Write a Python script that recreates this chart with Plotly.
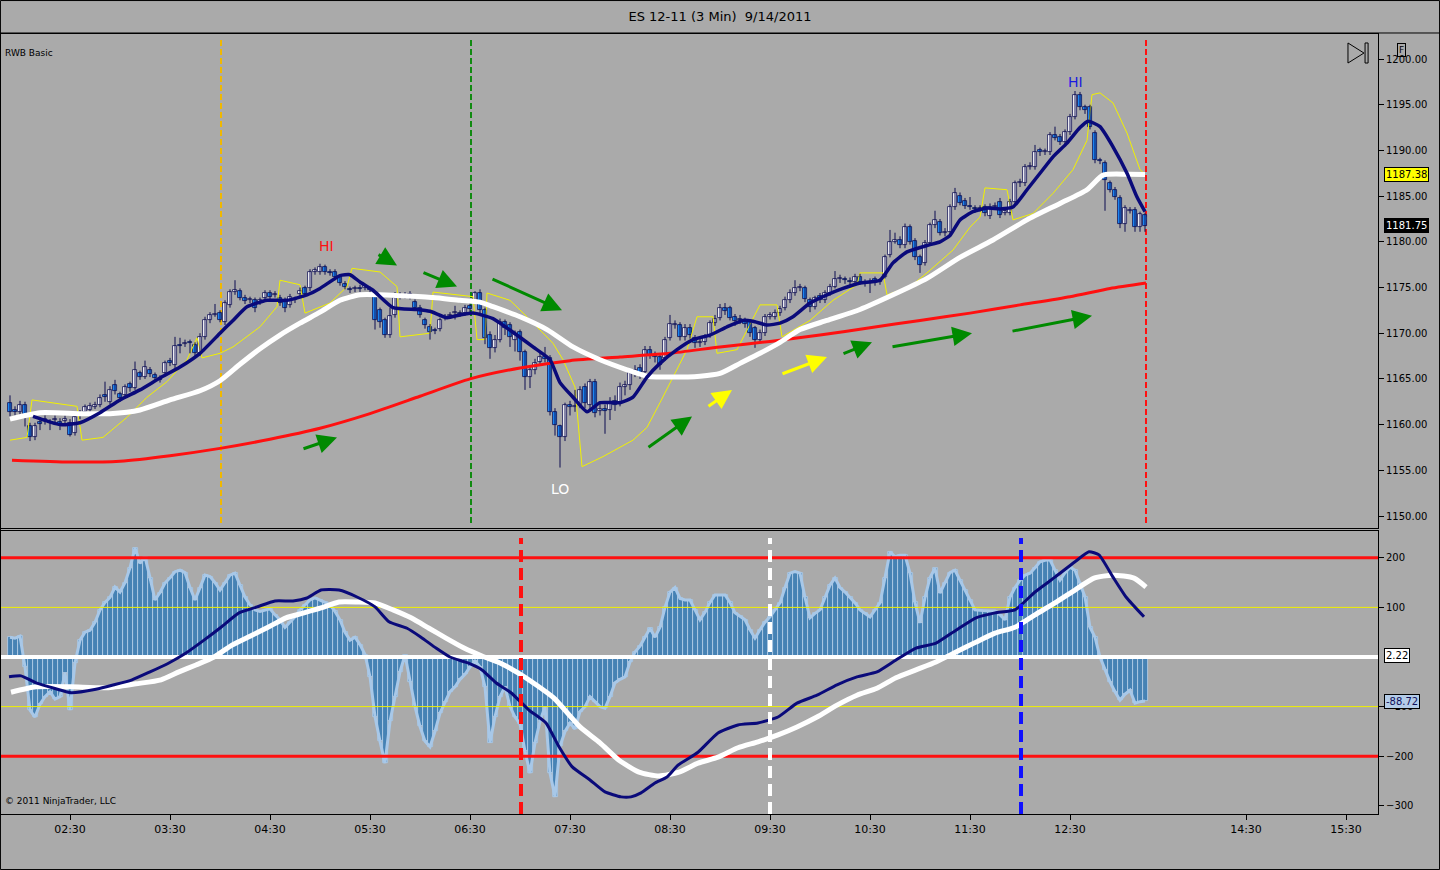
import plotly.graph_objects as go
from plotly.subplots import make_subplots

# ES 12-11, 3 minute bars, bar index 0 = 02:30
bars = list(range(-12, 216))

opens = [1162.4, 1161.6, 1161.4, 1162.2, 1159.8, 1158.6, 1160.3, 1160.4, 1160.3, 1160.5, 1160.3, 1160.4,
         1160.2, 1159.1, 1161.0, 1161.4, 1161.6, 1161.9, 1162.1, 1163.2, 1162.5, 1164.3, 1163.4, 1163.2,
         1164.4, 1164.0, 1165.6, 1165.2, 1166.0, 1165.4, 1165.0, 1165.6, 1167.0, 1166.5, 1168.7, 1168.8,
         1169.0, 1168.7, 1167.8, 1169.6, 1171.4, 1172.0, 1172.2, 1171.2, 1173.1, 1174.5, 1174.6, 1173.9,
         1173.6, 1173.6, 1173.4, 1173.9, 1174.4, 1174.2, 1173.9, 1173.6, 1173.1, 1173.6, 1174.3, 1174.9,
         1174.9, 1176.7, 1176.7, 1177.2, 1176.7, 1176.7, 1176.1, 1175.4, 1174.8, 1174.8, 1175.0, 1175.0,
         1174.8, 1174.0, 1172.5, 1171.4, 1169.8, 1172.0, 1174.0, 1174.2, 1174.2, 1173.4, 1172.8, 1171.4,
         1170.7, 1170.3, 1170.5, 1171.7, 1171.9, 1172.2, 1172.2, 1172.2, 1173.0, 1173.6, 1174.4, 1172.5,
         1169.8, 1168.4, 1169.3, 1171.2, 1170.9, 1169.3, 1170.1, 1167.9, 1165.2, 1166.0, 1166.9, 1167.4,
         1167.3, 1161.4, 1159.8, 1158.6, 1162.1, 1161.9, 1162.1, 1164.1, 1162.1, 1164.7, 1161.5, 1161.7,
         1161.6, 1162.6, 1162.4, 1164.1, 1164.3, 1165.6, 1166.2, 1165.8, 1168.2, 1167.6, 1167.4, 1167.3,
         1169.5, 1170.9, 1170.9, 1169.6, 1170.6, 1169.5, 1168.9, 1169.0, 1169.8, 1171.1, 1171.7, 1172.8,
         1172.8, 1171.8, 1171.5, 1171.4, 1171.2, 1170.6, 1169.3, 1170.0, 1171.8, 1171.8, 1172.2, 1172.8,
         1173.6, 1174.4, 1174.9, 1174.9, 1173.6, 1172.9, 1174.1, 1173.6, 1174.4, 1175.1, 1175.9, 1175.9,
         1175.7, 1175.6, 1176.2, 1175.6, 1175.5, 1175.9, 1175.6, 1176.2, 1178.6, 1180.0, 1180.2, 1179.6,
         1181.6, 1180.1, 1178.3, 1177.7, 1179.9, 1181.8, 1182.2, 1181.0, 1181.1, 1183.8, 1185.0, 1184.5,
         1183.9, 1183.7, 1183.6, 1183.8, 1182.8, 1183.8, 1184.4, 1183.2, 1183.2, 1184.4, 1186.4, 1186.4,
         1188.2, 1188.2, 1190.0, 1189.8, 1189.8, 1191.7, 1191.5, 1190.9, 1192.0, 1193.7, 1196.1, 1194.7,
         1194.7, 1191.9, 1188.9, 1188.6, 1186.4, 1185.7, 1184.8, 1182.0, 1183.4, 1183.5, 1181.6, 1182.9]

highs = [1163.2, 1162.0, 1162.6, 1162.5, 1160.2, 1160.2, 1160.8, 1161.0, 1160.6, 1161.0, 1160.7, 1161.0,
         1160.6, 1161.2, 1161.6, 1162.2, 1162.4, 1162.5, 1163.3, 1164.7, 1164.2, 1164.9, 1163.6, 1164.4,
         1164.7, 1166.9, 1165.9, 1167.0, 1166.3, 1165.7, 1165.4, 1167.0, 1167.3, 1169.6, 1169.5, 1169.3,
         1169.3, 1169.0, 1170.0, 1171.8, 1172.3, 1173.2, 1172.5, 1173.6, 1174.8, 1175.8, 1174.9, 1174.2,
         1174.0, 1173.9, 1173.9, 1174.7, 1174.7, 1174.6, 1174.2, 1173.9, 1174.3, 1174.0, 1175.0, 1175.2,
         1177.0, 1177.2, 1177.6, 1177.5, 1177.0, 1177.0, 1176.4, 1175.7, 1175.1, 1175.2, 1175.3, 1175.4,
         1175.1, 1174.3, 1172.8, 1171.7, 1172.8, 1174.5, 1174.5, 1174.5, 1174.6, 1173.7, 1173.1, 1171.7,
         1171.0, 1170.6, 1171.7, 1172.1, 1172.3, 1173.0, 1172.5, 1173.1, 1173.3, 1174.6, 1174.8, 1172.8,
         1170.2, 1169.8, 1171.6, 1171.5, 1171.2, 1170.3, 1170.4, 1168.2, 1166.5, 1167.2, 1168.0, 1168.5,
         1167.6, 1161.8, 1160.0, 1162.4, 1162.6, 1163.8, 1164.2, 1164.5, 1165.0, 1165.0, 1162.4, 1162.2,
         1163.0, 1163.2, 1164.6, 1164.8, 1166.0, 1166.5, 1166.6, 1168.6, 1168.6, 1168.0, 1167.8, 1169.6,
         1172.0, 1171.4, 1171.2, 1171.0, 1171.0, 1169.8, 1169.4, 1169.9, 1171.4, 1172.0, 1173.2, 1173.3,
         1173.0, 1172.1, 1172.0, 1171.7, 1171.5, 1170.8, 1170.4, 1172.1, 1172.3, 1172.6, 1173.0, 1174.0,
         1174.8, 1175.8, 1175.4, 1175.2, 1173.9, 1174.1, 1174.4, 1174.7, 1175.4, 1176.8, 1176.4, 1176.2,
         1176.1, 1176.5, 1176.5, 1175.9, 1176.0, 1176.2, 1176.0, 1178.6, 1181.3, 1181.0, 1180.6, 1182.0,
         1181.9, 1180.4, 1178.6, 1180.2, 1182.1, 1183.4, 1182.5, 1181.5, 1184.1, 1185.9, 1185.4, 1184.8,
         1184.9, 1184.0, 1184.0, 1184.1, 1184.2, 1184.3, 1184.8, 1183.7, 1184.7, 1186.7, 1186.9, 1188.5,
         1188.7, 1190.6, 1190.3, 1190.2, 1192.0, 1192.6, 1191.8, 1192.3, 1194.0, 1196.5, 1196.4, 1195.0,
         1195.0, 1192.2, 1189.2, 1188.9, 1186.7, 1186.0, 1185.1, 1184.0, 1183.8, 1183.8, 1183.3, 1183.2]

lows = [1160.9, 1161.0, 1161.0, 1159.8, 1158.2, 1158.3, 1159.4, 1160.0, 1159.4, 1160.2, 1159.4, 1160.1,
        1158.7, 1158.8, 1160.6, 1161.2, 1161.4, 1161.7, 1161.9, 1162.5, 1162.2, 1163.3, 1162.5, 1162.9,
        1163.6, 1163.8, 1164.9, 1165.0, 1165.2, 1164.8, 1164.6, 1165.3, 1166.4, 1166.2, 1167.8, 1168.5,
        1167.8, 1167.5, 1167.5, 1169.3, 1171.1, 1171.8, 1171.2, 1170.9, 1172.8, 1174.2, 1173.6, 1173.2,
        1173.3, 1172.3, 1173.1, 1173.6, 1173.7, 1173.9, 1173.0, 1172.3, 1172.8, 1173.3, 1174.0, 1174.0,
        1174.6, 1176.4, 1176.4, 1176.4, 1176.3, 1175.8, 1175.2, 1174.8, 1174.4, 1174.5, 1174.5, 1174.7,
        1174.4, 1170.4, 1170.6, 1169.5, 1169.5, 1171.7, 1173.7, 1173.8, 1173.7, 1172.5, 1171.7, 1170.5,
        1169.3, 1169.9, 1170.2, 1171.4, 1171.6, 1171.5, 1171.8, 1171.9, 1172.3, 1173.4, 1172.2, 1168.8,
        1167.2, 1167.9, 1169.0, 1169.8, 1168.5, 1168.0, 1167.0, 1163.8, 1164.0, 1165.5, 1166.5, 1166.8,
        1161.0, 1158.8, 1155.3, 1158.2, 1161.0, 1161.4, 1161.8, 1161.8, 1161.6, 1160.8, 1161.0, 1159.0,
        1160.5, 1161.5, 1162.0, 1163.2, 1163.8, 1165.2, 1165.0, 1165.5, 1167.2, 1166.8, 1166.0, 1167.0,
        1169.2, 1170.5, 1169.2, 1169.2, 1169.4, 1168.4, 1168.5, 1168.7, 1169.5, 1170.8, 1171.4, 1172.0,
        1171.4, 1170.8, 1171.0, 1170.6, 1169.6, 1168.4, 1169.0, 1169.7, 1171.5, 1171.5, 1171.9, 1172.5,
        1173.3, 1174.1, 1174.6, 1173.4, 1172.3, 1172.6, 1173.3, 1173.3, 1174.1, 1174.9, 1175.5, 1175.4,
        1175.2, 1175.3, 1175.3, 1175.1, 1174.4, 1175.2, 1175.3, 1176.0, 1178.3, 1179.8, 1179.3, 1179.3,
        1179.7, 1178.0, 1176.6, 1177.4, 1179.6, 1181.5, 1180.7, 1180.6, 1180.8, 1183.5, 1184.0, 1183.6,
        1183.5, 1183.2, 1183.3, 1182.8, 1182.5, 1183.5, 1182.6, 1182.9, 1182.9, 1184.1, 1186.0, 1186.1,
        1187.9, 1187.9, 1189.4, 1189.5, 1189.5, 1191.1, 1190.6, 1190.6, 1191.7, 1193.4, 1194.4, 1194.0,
        1192.3, 1188.6, 1188.5, 1183.4, 1185.4, 1184.6, 1181.5, 1181.1, 1183.1, 1181.1, 1181.1, 1181.1]

closes = [1161.4, 1161.4, 1162.2, 1161.0, 1158.6, 1159.9, 1160.1, 1160.6, 1160.2, 1160.6, 1160.1, 1160.6,
          1158.9, 1160.8, 1161.2, 1161.9, 1162.0, 1162.2, 1162.9, 1163.0, 1163.8, 1163.7, 1162.9, 1164.1,
          1164.0, 1166.0, 1165.2, 1166.3, 1165.5, 1165.1, 1164.9, 1166.7, 1166.7, 1168.6, 1168.6, 1168.9,
          1168.9, 1167.8, 1169.6, 1171.4, 1172.0, 1172.1, 1171.5, 1173.3, 1174.5, 1174.7, 1173.9, 1173.5,
          1173.7, 1172.8, 1173.6, 1174.4, 1174.0, 1174.3, 1173.3, 1172.8, 1174.0, 1173.7, 1174.6, 1174.3,
          1176.7, 1176.9, 1177.3, 1176.7, 1176.6, 1176.1, 1175.5, 1175.1, 1174.7, 1174.9, 1174.8, 1175.1,
          1174.7, 1171.4, 1171.2, 1169.8, 1171.9, 1173.9, 1174.2, 1174.1, 1174.3, 1172.8, 1172.0, 1170.9,
          1170.1, 1170.2, 1171.4, 1171.8, 1172.0, 1172.3, 1172.1, 1172.8, 1172.6, 1174.4, 1172.5, 1169.5,
          1168.4, 1169.3, 1171.2, 1170.6, 1169.6, 1169.8, 1167.9, 1165.2, 1166.0, 1166.7, 1167.4, 1167.2,
          1161.4, 1160.0, 1158.6, 1162.1, 1161.9, 1162.0, 1163.8, 1162.4, 1164.7, 1161.3, 1161.7, 1161.5,
          1162.4, 1162.2, 1164.1, 1164.3, 1165.6, 1166.0, 1165.4, 1168.2, 1167.6, 1167.4, 1166.5, 1169.3,
          1171.0, 1171.0, 1169.6, 1170.6, 1169.8, 1168.9, 1169.0, 1169.5, 1171.1, 1171.6, 1172.8, 1172.4,
          1171.7, 1171.3, 1171.4, 1171.0, 1170.0, 1169.3, 1170.0, 1171.8, 1172.0, 1172.2, 1172.7, 1173.6,
          1174.4, 1174.9, 1175.1, 1173.7, 1172.9, 1173.8, 1173.6, 1174.4, 1175.1, 1175.9, 1176.0, 1175.8,
          1175.6, 1176.2, 1175.6, 1175.5, 1175.6, 1175.6, 1175.7, 1178.3, 1180.0, 1180.2, 1179.6, 1181.6,
          1180.0, 1178.3, 1177.5, 1179.9, 1181.8, 1182.4, 1181.0, 1181.1, 1183.8, 1185.3, 1184.3, 1183.9,
          1183.8, 1183.6, 1183.7, 1183.2, 1183.8, 1183.9, 1182.9, 1183.3, 1184.4, 1186.4, 1186.5, 1188.2,
          1188.3, 1189.8, 1189.8, 1189.9, 1191.7, 1191.4, 1190.9, 1192.0, 1193.7, 1196.1, 1194.7, 1194.4,
          1192.6, 1188.9, 1188.8, 1186.8, 1185.7, 1184.9, 1182.0, 1183.7, 1183.5, 1181.6, 1183.0, 1181.75]

# moving averages on price panel (read at bar positions)
navy_x = [-7.4, -2, 2, 6, 10, 14, 18, 22, 26, 30, 32.6, 35.4, 39.4, 43.4, 47.4, 50, 54, 56, 58,
          60.6, 64.6, 69.4, 72, 75.4, 78, 80.6, 84.6, 88.6, 92.6, 96, 98, 100.6, 103.4, 106, 110,
          112.6, 115.4, 118, 121.4, 124.6, 128, 131.4, 134.6, 136.6, 139.4, 142, 144.6, 148, 151.4,
          154.6, 158, 162, 164.6, 167.4, 171.4, 174, 176, 178, 180.6, 183.4, 186, 188.6, 191.4, 194,
          196.6, 199.4, 202, 203.6, 206, 208.6, 211.4, 213.4, 215]
navy_y = [1160.9, 1160.0, 1160.2, 1161.3, 1162.7, 1163.8, 1165.1, 1166.3, 1167.8, 1170.0, 1171.4,
          1172.9, 1173.6, 1173.6, 1174.2, 1174.9, 1176.3, 1176.4, 1175.6, 1174.7, 1172.8, 1172.6,
          1172.4, 1171.7, 1172.0, 1172.2, 1171.6, 1170.1, 1168.5, 1167.1, 1164.6, 1163.0, 1161.4,
          1162.4, 1162.4, 1163.0, 1165.2, 1166.7, 1168.2, 1169.3, 1169.8, 1170.7, 1171.4, 1171.3,
          1170.9, 1171.1, 1171.8, 1173.3, 1174.2, 1174.9, 1175.5, 1175.8, 1177.7, 1178.9, 1179.6,
          1180.0, 1180.7, 1182.4, 1183.3, 1183.7, 1183.6, 1183.8, 1185.7, 1187.5, 1189.3, 1190.8,
          1192.5, 1193.2, 1192.6, 1190.4, 1187.5, 1184.9, 1183.3]

white_x = [-12, -6, 2, 8, 14, 20, 26, 30, 34, 38, 42, 46, 50, 54, 58, 62, 66, 72.6, 78, 82, 84.6,
           90, 95.4, 100.6, 106, 111.4, 115.4, 120.6, 126, 130, 134, 138, 142, 146, 151.4, 158,
           164.6, 171.4, 178, 184.6, 191.4, 198, 203.4, 206.6, 211.4, 215]
white_y = [1160.6, 1161.3, 1161.2, 1161.2, 1161.6, 1162.7, 1163.7, 1164.8, 1166.6, 1168.3, 1169.8,
           1171.1, 1172.3, 1173.6, 1174.2, 1174.2, 1174.1, 1173.9, 1173.6, 1173.4, 1172.9, 1171.8,
           1170.4, 1168.5, 1167.1, 1166.0, 1165.3, 1165.2, 1165.3, 1165.6, 1166.7, 1167.8, 1169.0,
           1170.4, 1171.4, 1172.6, 1174.2, 1176.0, 1178.3, 1180.2, 1182.4, 1184.2, 1185.7, 1187.3,
           1187.4, 1187.38]

red_x = [-11.6, 0, 10, 20, 30, 40, 50, 60, 70, 80, 90, 100, 110, 120, 130, 140, 150, 160, 170,
         180, 190, 200, 208, 215.2]
red_y = [1156.1, 1155.9, 1156.0, 1156.6, 1157.4, 1158.4, 1159.6, 1161.2, 1163.1, 1165.0, 1166.2,
         1167.0, 1167.4, 1167.8, 1168.5, 1169.1, 1169.8, 1170.6, 1171.4, 1172.2, 1173.1, 1174.0,
         1174.9, 1175.5]

yellow_x = [-12, -8.6, -7.6, 1.4, 2.4, 6.6, 11.4, 15.4, 19.4, 23.4, 25.4, 26.4, 30, 32.6, 38,
            41.4, 42, 46, 47, 52, 55.4, 56.4, 62, 65.4, 66, 72, 72.6, 80.6, 81.4, 83, 83.4, 88,
            91.4, 96.6, 98.6, 101, 102.4, 106.6, 112.6, 115.4, 118, 120.6, 123.4, 125.4, 128.6,
            129.4, 133.4, 138, 141.4, 142.4, 148, 152.6, 157.4, 158, 162.6, 163.4, 168, 171.4,
            176.6, 180, 182, 183, 187.4, 188.6, 192.6, 196.6, 200.6, 203.4, 204.4, 206, 208.6,
            211.4, 214, 215]
yellow_y = [1158.3, 1158.6, 1162.7, 1162.0, 1158.3, 1158.6, 1160.8, 1163.0, 1164.7, 1167.1, 1169.5,
            1167.3, 1167.8, 1168.5, 1170.7, 1172.9, 1175.8, 1175.3, 1172.2, 1173.3, 1175.1, 1177.1,
            1176.7, 1175.1, 1169.6, 1170.0, 1174.5, 1174.0, 1169.3, 1169.3, 1174.4, 1173.6, 1171.8,
            1168.9, 1167.1, 1164.1, 1155.4, 1156.5, 1158.3, 1159.7, 1162.4, 1165.2, 1168.2, 1171.8,
            1171.8, 1167.8, 1168.2, 1173.1, 1173.1, 1169.6, 1171.4, 1173.6, 1175.3, 1176.6, 1176.6,
            1174.2, 1175.1, 1176.6, 1179.1, 1181.6, 1182.7, 1185.9, 1185.7, 1182.4, 1183.1, 1185.3,
            1187.9, 1191.1, 1196.1, 1196.3, 1195.2, 1191.9, 1187.9, 1187.4]

# oscillator histogram, one value per bar
osc = [40, 38, 42, -20, -107, -121, -95, -80, -70, -85, -80, -32,
       -107, -12, 34, 50, 54, 70, 95, 110, 120, 141, 131, 150,
       180, 220, 189, 202, 160, 115, 130, 149, 160, 172, 175, 170,
       140, 115, 140, 165, 162, 150, 135, 150, 165, 169, 145, 121,
       105, 95, 92, 95, 97, 85, 75, 60, 70, 81, 95, 105,
       115, 119, 115, 110, 105, 92, 75, 50, 34, 40, 25, 5,
       -40, -120, -170, -214, -130, -80, -30, 4, -50, -100, -140, -170,
       -181, -150, -113, -90, -70, -60, -45, -35, -20, -8, -20, -60,
       -173, -120, -80, -60, -100, -121, -135, -190, -234, -173, -130, -100,
       -234, -282, -180, -150, -133, -145, -110, -100, -80, -90, -100, -103,
       -80, -52, -45, -40, -10, 10, 22, 40, 58, 40, 60, 100,
       131, 140, 118, 115, 115, 95, 75, 90, 110, 125, 125, 125,
       110, 89, 82, 75, 55, 38, 55, 70, 81, 95, 109, 140,
       169, 172, 169, 120, 79, 88, 95, 120, 145, 159, 140, 131,
       120, 109, 95, 88, 81, 95, 109, 160, 212, 202, 205, 205,
       169, 110, 69, 120, 160, 179, 129, 150, 170, 175, 155, 135,
       115, 95, 94, 93, 93, 93, 85, 75, 121, 140, 155, 165,
       169, 180, 192, 195, 196, 175, 155, 170, 181, 175, 150, 121,
       60, 40, 0, -26, -50, -70, -87, -75, -67, -93, -90, -88.72]

osc_navy_x = [-12.2, -9.8, -6.8, -3.2, 0.2, 5.2, 8.8, 12.4, 16, 19.6, 23.2, 26.8, 30.2, 33.8, 37.4,
              41, 44.6, 47.4, 50.2, 53.8, 57.4, 61, 63.8, 67.4, 70.2, 73.2, 76, 79.6, 82.4, 85.2,
              88.2, 91.8, 95.2, 97.8, 100.4, 104, 107, 110.2, 112.2, 114.2, 117, 119.4, 121.6,
              125.6, 129.6, 133.6, 137.6, 141.6, 145.4, 149.4, 153.4, 157.4, 161.4, 165.2, 169.2,
              173.2, 177.2, 181.2, 185, 189, 193, 197, 201, 203.8, 205.8, 208.6, 211.2, 214.8]
osc_navy_y = [-40, -38, -52, -63, -72, -65, -56, -46, -30, -13, 8, 34, 60, 89, 101, 113, 113, 119,
              135, 135, 121, 101, 71, 58, 40, 18, 0, -12, -26, -52, -72, -107, -133, -181, -221,
              -248, -272, -282, -282, -274, -254, -242, -218, -192, -153, -137, -133, -121, -93,
              -77, -56, -40, -30, -6, 18, 28, 54, 79, 89, 95, 131, 161, 192, 212, 206, 161, 121, 81]

osc_white_x = [-11.8, -6.8, 0.2, 7.4, 13.2, 18.2, 21.8, 25.2, 28.8, 32.4, 36, 39.6, 43.2, 46.8,
               50.2, 53.8, 57.4, 61, 64.6, 68.2, 71.8, 75.2, 78.8, 82.4, 86, 89.6, 93.2, 96.8,
               102, 106, 109.8, 113.8, 117.8, 121.8, 125.6, 129.6, 133.6, 137.6, 141.6, 145.4,
               149.4, 153.4, 157.4, 161.4, 165.2, 169.2, 173.2, 177.2, 181.2, 185, 189, 193, 197,
               201, 204.8, 208.6, 212.8, 215.2]
osc_white_y = [-71, -60, -60, -62, -54, -46, -30, -16, 0, 24, 42, 60, 79, 89, 99, 111, 111, 109,
               95, 79, 58, 38, 18, 2, -12, -32, -56, -83, -141, -173, -208, -232, -240, -232,
               -214, -202, -183, -171, -157, -141, -121, -97, -77, -63, -42, -26, -10, 10, 30, 48,
               60, 85, 109, 135, 159, 165, 159, 141]

osc_levels = [200, 100, 0, -100, -200]
level_colors = ["#ff1010", "#f0f000", "white", "#f0f000", "#ff1010"]
level_widths = [3, 1, 4, 1, 3]

tick_pos = [0, 20, 40, 60, 80, 100, 120, 140, 160, 180, 200, 235.2, 255.2]
tick_text = ["02:30", "03:30", "04:30", "05:30", "06:30", "07:30", "08:30", "09:30",
             "10:30", "11:30", "12:30", "14:30", "15:30"]

# arrows drawn on the price panel: tail (bar, price) -> head (bar, price)
arrow_tail_x = [46.4, 61.4, 70.4, 84.2, 115.4, 127.4, 142.2, 154.4, 164.2, 188.2]
arrow_tail_y = [1157.3, 1178.7, 1176.7, 1176.0, 1157.4, 1161.9, 1165.5, 1167.7, 1168.5, 1170.2]
arrow_head_x = [53.4, 65.4, 77.4, 98.4, 124.4, 132.4, 151.4, 160.4, 180.4, 204.4]
arrow_head_y = [1158.6, 1177.4, 1175.1, 1172.5, 1160.9, 1163.8, 1167.4, 1169.0, 1170.0, 1171.9]
arrow_colors = ["#008a00", "#008a00", "#008a00", "#008a00", "#008a00",
                "#ffff00", "#ffff00", "#008a00", "#008a00", "#008a00"]

x_range = [-13.8, 261.6]
bg = "#aaaaaa"
edge = "#0c0c50"
font_name = "DejaVu Sans"

# candle bodies and wicks
body_base = [min(o, c) for o, c in zip(opens, closes)]
body_size = [max(abs(c - o), 0.12) for o, c in zip(opens, closes)]
body_color = ["white" if c >= o else "#1e90ff" for o, c in zip(opens, closes)]
wick_x, wick_y = [], []
for b, h, l in zip(bars, highs, lows):
    wick_x += [b, b, None]
    wick_y += [l, h, None]

fig = make_subplots(rows=2, cols=1, shared_xaxes=True, vertical_spacing=0.004)

# price panel
fig.add_trace(go.Scatter(x=yellow_x, y=yellow_y, mode="lines",
                         line=dict(color="#f2f200", width=1), hoverinfo="skip"), row=1, col=1)
fig.add_trace(go.Scatter(x=wick_x, y=wick_y, mode="lines",
                         line=dict(color=edge, width=1), hoverinfo="skip"), row=1, col=1)
fig.add_trace(go.Bar(x=bars, y=body_size, base=body_base, width=0.78,
                     marker=dict(color=body_color, line=dict(color=edge, width=0.8)),
                     hoverinfo="skip"), row=1, col=1)
fig.add_trace(go.Scatter(x=red_x, y=red_y, mode="lines",
                         line=dict(color="#ff1010", width=3, shape="spline", smoothing=0.6),
                         hoverinfo="skip"), row=1, col=1)
fig.add_trace(go.Scatter(x=white_x, y=white_y, mode="lines",
                         line=dict(color="white", width=5, shape="spline", smoothing=0.6),
                         hoverinfo="skip"), row=1, col=1)
fig.add_trace(go.Scatter(x=navy_x, y=navy_y, mode="lines",
                         line=dict(color="#0a0a7a", width=3.5, shape="spline", smoothing=0.5),
                         hoverinfo="skip"), row=1, col=1)

# oscillator panel
fig.add_trace(go.Bar(x=bars, y=osc, width=1,
                     marker=dict(color="#4682b4", line=dict(color="#b8d0ea", width=0.8)),
                     hoverinfo="skip"), row=2, col=1)
fig.add_trace(go.Scatter(x=bars, y=osc, mode="lines",
                         line=dict(color="#a8c8e8", width=3), hoverinfo="skip"), row=2, col=1)
for lev, c, w in zip(osc_levels, level_colors, level_widths):
    fig.add_trace(go.Scatter(x=x_range, y=[lev, lev], mode="lines",
                             line=dict(color=c, width=w), hoverinfo="skip"), row=2, col=1)
fig.add_trace(go.Scatter(x=osc_white_x, y=osc_white_y, mode="lines",
                         line=dict(color="white", width=5, shape="spline", smoothing=0.6),
                         hoverinfo="skip"), row=2, col=1)
fig.add_trace(go.Scatter(x=osc_navy_x, y=osc_navy_y, mode="lines",
                         line=dict(color="#0a0a7a", width=3, shape="spline", smoothing=0.5),
                         hoverinfo="skip"), row=2, col=1)

# vertical marker lines
for xv, c in zip([30.2, 80.2, 215.2], ["#f0b800", "#108a10", "#ff1010"]):
    fig.add_shape(type="line", x0=xv, x1=xv, y0=0.01, y1=0.99, xref="x", yref="y domain",
                  line=dict(color=c, width=2, dash="6px,3px"), layer="below")
for xv, c in zip([90.2, 140, 190.2], ["#ff1010", "white", "#1010ff"]):
    fig.add_shape(type="line", x0=xv, x1=xv, y0=0, y1=0.975, xref="x2", yref="y2 domain",
                  line=dict(color=c, width=4, dash="12px,6px"), layer="above")

for tx, ty, hx, hy, c in zip(arrow_tail_x, arrow_tail_y, arrow_head_x, arrow_head_y, arrow_colors):
    fig.add_annotation(x=hx, y=hy, ax=tx, ay=ty, xref="x", yref="y", axref="x", ayref="y",
                       text="", showarrow=True, arrowhead=2, arrowsize=1.3, arrowwidth=3,
                       arrowcolor=c)

fig.add_annotation(x=51.2, y=1179.5, xref="x", yref="y", text="HI", showarrow=False,
                   font=dict(family=font_name, size=14, color="#ff1010"))
fig.add_annotation(x=98, y=1153.0, xref="x", yref="y", text="LO", showarrow=False,
                   font=dict(family=font_name, size=14, color="white"))
fig.add_annotation(x=201, y=1197.5, xref="x", yref="y", text="HI", showarrow=False,
                   font=dict(family=font_name, size=14, color="#1a1ae0"))

# value markers on the right scale
fig.add_annotation(x=1.004, y=1187.38, xref="paper", yref="y", xanchor="left", text="1187.38",
                   showarrow=False, bgcolor="#ffff00", bordercolor="black", borderwidth=1, borderpad=1,
                   font=dict(family=font_name, size=10, color="black"))
fig.add_annotation(x=1.004, y=1181.75, xref="paper", yref="y", xanchor="left", text="1181.75",
                   showarrow=False, bgcolor="black", bordercolor="black", borderwidth=1, borderpad=1,
                   font=dict(family=font_name, size=10, color="white"))
fig.add_annotation(x=1.004, y=2.22, xref="paper", yref="y2", xanchor="left", text="2.22",
                   showarrow=False, bgcolor="white", bordercolor="black", borderwidth=1, borderpad=1,
                   font=dict(family=font_name, size=10, color="black"))
fig.add_annotation(x=1.004, y=-88.72, xref="paper", yref="y2", xanchor="left", text="-88.72",
                   showarrow=False, bgcolor="#b4cce8", bordercolor="black", borderwidth=1, borderpad=1,
                   font=dict(family=font_name, size=10, color="#10105a"))

fig.add_annotation(x=0.0015, y=0.985, xref="paper", yref="paper", xanchor="left", text="RWB Basic",
                   showarrow=False, font=dict(family=font_name, size=9, color="black"))
fig.add_annotation(x=0.0015, y=0.008, xref="paper", yref="paper", xanchor="left",
                   text="© 2011 NinjaTrader, LLC", showarrow=False,
                   font=dict(family=font_name, size=9, color="black"))
fig.add_annotation(x=1.0203, y=0.989, xref="paper", yref="paper", text="F", showarrow=False,
                   bordercolor="black", borderwidth=1, borderpad=1,
                   font=dict(family=font_name, size=9, color="black"))

# play/end icon in the corner
fig.add_shape(type="path", path="M 0.9782,0.9885 L 0.9782,0.9628 L 0.9898,0.9756 Z",
              xref="paper", yref="paper", line=dict(color="black", width=1))
fig.add_shape(type="rect", x0=0.9906, x1=0.9928, y0=0.9628, y1=0.9885,
              xref="paper", yref="paper", line=dict(color="black", width=1))
# outer frame and title separator
fig.add_shape(type="rect", x0=-0.0004, x1=1.0447, y0=-0.0712, y1=1.0429,
              xref="paper", yref="paper", line=dict(color="black", width=1))
fig.add_shape(type="line", x0=-0.0004, x1=1.0447, y0=1.0013, y1=1.0013,
              xref="paper", yref="paper", line=dict(color="black", width=1))

fig.update_layout(
    width=1440, height=870,
    margin=dict(l=1, r=62, t=34, b=56),
    paper_bgcolor=bg, plot_bgcolor=bg,
    showlegend=False, bargap=0,
    title=dict(text="ES 12-11 (3 Min)  9/14/2011", x=0.5, xref="container", y=0.9816,
               yanchor="middle", font=dict(family=font_name, size=13, color="black")),
    font=dict(family=font_name, size=10, color="black"),
)

fig.update_xaxes(range=x_range, showgrid=False, zeroline=False, showline=True, mirror=True,
                 linecolor="black", linewidth=1, rangeslider_visible=False)
fig.update_xaxes(showticklabels=False, ticks="", row=1, col=1)
fig.update_xaxes(tickvals=tick_pos, ticktext=tick_text, ticks="outside", ticklen=5,
                 tickcolor="black", tickfont=dict(family=font_name, size=11), row=2, col=1)

fig.update_yaxes(side="right", showgrid=False, zeroline=False, showline=True, mirror=True,
                 linecolor="black", linewidth=1, ticks="outside", ticklen=5, tickcolor="black")
fig.update_yaxes(domain=[0.3667, 1.0], range=[1148.69, 1202.74], dtick=5, tickformat=".2f",
                 tickfont=dict(family=font_name, size=10), row=1, col=1)
fig.update_yaxes(domain=[0.0, 0.3628], range=[-316.5, 254.0],
                 tickvals=[200, 100, -100, -200, -300],
                 tickfont=dict(family=font_name, size=10), row=2, col=1)

# the page body has a default 8px margin; remove it so the figure fills the window
fig.write_html("out.html", config={"displayModeBar": False},
               post_script="document.body.style.margin='0px';")
